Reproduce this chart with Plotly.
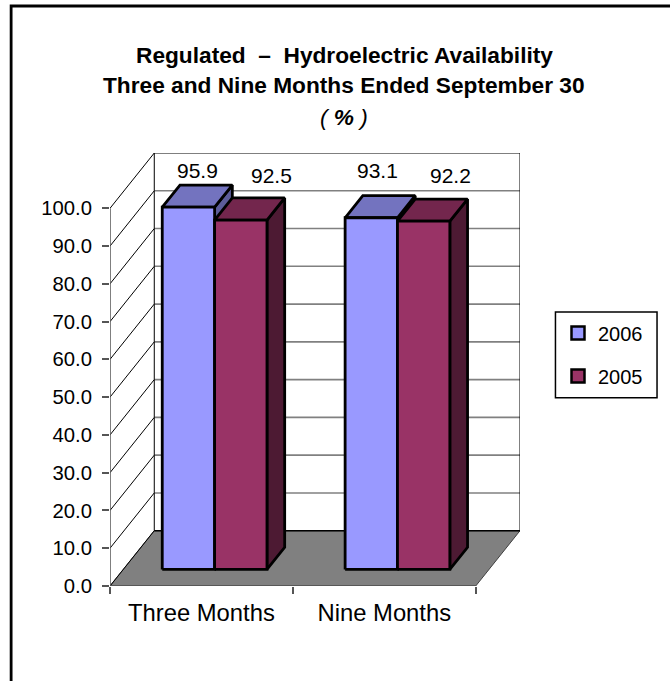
import plotly.graph_objects as go

categories = ["Three Months", "Nine Months"]
series_names = ["2006", "2005"]
values_2006 = [95.9, 93.1]
values_2005 = [92.5, 92.2]
y_ticks = [0, 10, 20, 30, 40, 50, 60, 70, 80, 90, 100]

# pixel geometry of the oblique projection, turned into axis units below
PX_X = 183.0        # px per category
PX_Y = 3.777        # px per value unit
WALL_DX, WALL_DY = 44.3 / PX_X, 55.3 / PX_Y
BAR_GAP = 39.0 / PX_X
BAR_W = 52.4 / PX_X
BAR_D0 = 0.30       # depth fraction where a bar begins
BAR_D1 = 0.70       # depth fraction where a bar ends

# plot area in page pixels
PLOT_L, PLOT_T, PLOT_W, PLOT_H = 110, 153, 410.5, 433

# colours
FRONT = ["#9999FF", "#993366"]
TOP = ["#7373BF", "#73264D"]
SIDE = ["#5C5C99", "#4D1A33"]
GRID = "#808080"
FLOOR = "#808080"
FONT = "Liberation Sans"

# data label nudges in px from the top centre of each bar: [series][category]
LABEL_SHIFT = [[(9, 37), (6, 47)], [(31, 45), (27, 46)]]

x_max = len(categories)


def proj(x, y, d):
    """Oblique projection: depth d in 0..1 shifts a point right and up."""
    return x + d * WALL_DX, y + d * WALL_DY


def poly(corners, fill, line_w=2.8):
    xs = [c[0] for c in corners] + [corners[0][0]]
    ys = [c[1] for c in corners] + [corners[0][1]]
    return go.Scatter(
        x=xs, y=ys, mode="lines", fill="toself", fillcolor=fill,
        line=dict(color="black", width=line_w), hoverinfo="skip",
        showlegend=False,
    )


def seg(x, y, color, width):
    return go.Scatter(x=x, y=y, mode="lines", line=dict(color=color, width=width),
                      hoverinfo="skip", showlegend=False)


def dom_x(px):
    return (px - PLOT_L) / PLOT_W


def dom_y(px):
    return (PLOT_T + PLOT_H - px) / PLOT_H


fig = go.Figure()

# floor
floor = [proj(0, 0, 0), proj(x_max, 0, 0), proj(x_max, 0, 1), proj(0, 0, 1)]
fig.add_trace(go.Scatter(
    x=[c[0] for c in floor] + [floor[0][0]], y=[c[1] for c in floor] + [floor[0][1]],
    mode="lines", fill="toself", fillcolor=FLOOR, line=dict(color="#404040", width=1),
    hoverinfo="skip", showlegend=False))

# walls
for v in y_ticks:
    a, b = proj(0, v, 0), proj(0, v, 1)
    fig.add_trace(seg([a[0], b[0]], [a[1], b[1]], "black", 1))
    c = proj(x_max, v, 1)
    fig.add_trace(seg([b[0], c[0]], [b[1], c[1]], "black" if v in (0, y_ticks[-1]) else GRID,
                      1 if v == y_ticks[-1] else 1.6))
bl, tl = proj(0, 0, 1), proj(0, y_ticks[-1], 1)
br, tr = proj(x_max, 0, 1), proj(x_max, y_ticks[-1], 1)
fig.add_trace(seg([bl[0], tl[0]], [bl[1], tl[1]], "black", 1))
fig.add_trace(seg([br[0], tr[0]], [br[1], tr[1]], "black", 1))
fig.add_trace(seg([0, 0], [0, y_ticks[-1]], "#555555", 1.5))
fig.add_trace(seg([0, x_max], [0, 0], "#555555", 1.5))

# bars, painted back to front
annotations = []
for s, vals in enumerate([values_2006, values_2005]):
    for c, v in enumerate(vals):
        x0 = c + BAR_GAP + s * BAR_W
        x1 = x0 + BAR_W
        fig.add_trace(poly([proj(x1, 0, BAR_D0), proj(x1, 0, BAR_D1), proj(x1, v, BAR_D1), proj(x1, v, BAR_D0)], SIDE[s]))
        fig.add_trace(poly([proj(x0, v, BAR_D0), proj(x1, v, BAR_D0), proj(x1, v, BAR_D1), proj(x0, v, BAR_D1)], TOP[s]))
        fig.add_trace(poly([proj(x0, 0, BAR_D0), proj(x1, 0, BAR_D0), proj(x1, v, BAR_D0), proj(x0, v, BAR_D0)], FRONT[s]))
        lx, ly = proj((x0 + x1) / 2, v, BAR_D0)
        annotations.append(dict(
            x=lx, y=ly, xref="x", yref="y", text=f"{v:.1f}", showarrow=False,
            xshift=LABEL_SHIFT[s][c][0], yshift=LABEL_SHIFT[s][c][1],
            font=dict(family=FONT, size=21, color="black")))

# legend entries
for s, name in enumerate(series_names):
    fig.add_trace(go.Scatter(
        x=[None], y=[None], mode="markers", name=name, legendgroup=name,
        marker=dict(symbol="square", size=13, color=FRONT[s], line=dict(color="black", width=2.5))))

# title lines: text and centre height on the page
for text, ypx in [
    ("<b>Regulated  \u2013  Hydroelectric Availability</b>", 55),
    ("<b>Three and Nine Months Ended September 30</b>", 85),
    ("<i>( <b>%</b> )</i>", 117),
]:
    annotations.append(dict(
        x=dom_x(344.5), y=dom_y(ypx),
        xref="x domain", yref="y domain", xanchor="center", yanchor="middle",
        text=text, showarrow=False,
        font=dict(family=FONT, size=22.7, color="black")))

fig.update_layout(
    width=670, height=681,
    margin=dict(l=PLOT_L, r=670 - PLOT_L - PLOT_W, t=PLOT_T, b=681 - PLOT_T - PLOT_H),
    paper_bgcolor="white", plot_bgcolor="white",
    font=dict(family=FONT, size=20, color="black"),
    annotations=annotations,
    showlegend=True,
    legend=dict(
        x=558 / 670, xanchor="left", y=1 - 313.5 / 681, yanchor="top",
        xref="container", yref="container",
        borderwidth=0, bgcolor="rgba(0,0,0,0)", font=dict(size=20, family=FONT),
        tracegroupgap=14, itemclick=False, itemdoubleclick=False),
    xaxis=dict(
        range=[0, x_max + WALL_DX], tickmode="array", tickvals=[0.5, 1.5], ticktext=categories,
        ticks="outside", ticklen=5, tickcolor="rgba(0,0,0,0)", showgrid=False, zeroline=False,
        tickfont=dict(size=23.8, family=FONT, color="black"),
        minor=dict(tickmode="array", tickvals=[0, 1, 2], ticks="outside", ticklen=7,
                   tickcolor="#555555", tickwidth=1.5, showgrid=False),
    ),
    yaxis=dict(
        range=[0, y_ticks[-1] + WALL_DY], tickmode="array", tickvals=y_ticks, tickformat=".1f",
        ticks="outside", ticklen=7, tickcolor="#555555", tickwidth=1.5, showgrid=False, zeroline=False,
        ticklabelstandoff=6, tickfont=dict(size=20.3, family=FONT, color="black"),
    ),
    shapes=[
        # page frame: top and left edges only
        dict(type="path", xref="x domain", yref="y domain",
             path=f"M {dom_x(11)} {dom_y(683)} L {dom_x(11)} {dom_y(6)} L {dom_x(672)} {dom_y(6)}",
             line=dict(color="black", width=2.8), layer="above"),
        # legend box
        dict(type="rect", xref="x domain", yref="y domain",
             x0=dom_x(556), x1=dom_x(657.7), y0=dom_y(397.7), y1=dom_y(312),
             line=dict(color="black", width=1.5), layer="above"),
    ],
)

fig.write_html("out.html", config=dict(displayModeBar=False),
               post_script="document.body.style.margin='0';window.dispatchEvent(new Event('resize'));")
